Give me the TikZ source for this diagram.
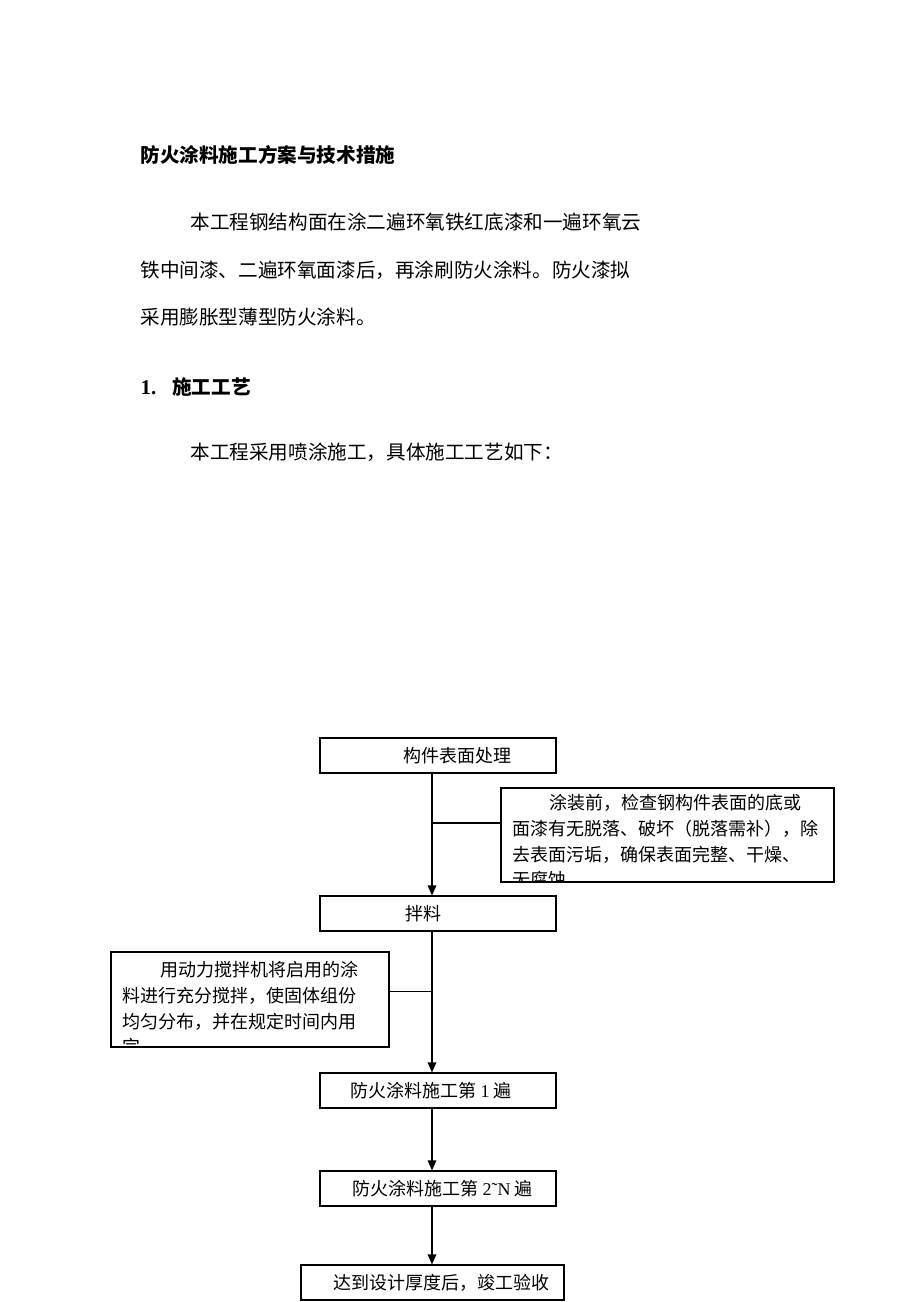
\documentclass[tikz,border=0pt]{standalone}
\usepackage{fontspec}
\setmainfont{Liberation Serif}
\newfontfamily\cjk{Noto Sans CJK SC}
\usetikzlibrary{arrows.meta}
\XeTeXlinebreaklocale "zh"
\XeTeXlinebreakskip=0pt plus 2pt
\tikzset{
  body/.style={anchor=base west, inner sep=0pt, font=\cjk\fontsize{19.6}{24}\selectfont},
  headline/.style={body, font=\cjk\bfseries\fontsize{19.6}{24}\selectfont},
  stepbox/.style={draw, minimum width=236pt, minimum height=35pt, inner sep=0pt, font=\cjk\fontsize{18}{22}\selectfont},
  notebox/.style={draw, inner sep=0pt},
  notetext/.style={anchor=base west, inner sep=0pt, font=\cjk\fontsize{18}{22}\selectfont}
}

\begin{document}
\begin{tikzpicture}[x=1pt,y=-1pt,line width=1.1pt,>={Triangle[length=10pt,width=8.5pt]}]
  \useasboundingbox (0,0) rectangle (920,1302);
  % text above the chart
  \node[headline] (title) at (140,162.5) {防火涂料施工方案与技术措施};
  \node[body] (para1) at (190,229.5) {\makebox[443pt][s]{本工程钢结构面在涂二遍环氧铁红底漆和一遍环氧云}};
  \node[body] (para2) at (140,277.5) {铁中间漆、二遍环氧面漆后，再涂刷防火涂料。防火漆拟};
  \node[body] (para3) at (140,324.5) {采用膨胀型薄型防火涂料。};
  \node[headline] (sec1) at (140,394.5) {{\rmfamily\bfseries\fontsize{21}{24}\selectfont 1.}\hspace{16pt}施工工艺};
  \node[body] (intro) at (190,459.5) {本工程采用喷涂施工，具体施工工艺如下：};

  % flow chart
  \coordinate (spine) at (432,760);
  \node[stepbox] (prep) at (438,755.5) {\hspace{38pt}构件表面处理};
  \node[stepbox] (mix) at (438,913.5) {\hspace{-30pt}拌料};
  \node[stepbox] (coat1) at (438,1090.5) {\hspace{-14pt}防火涂料施工第 {\rmfamily 1} 遍};
  \node[stepbox] (coatN) at (438,1188.5) {\hspace{9pt}防火涂料施工第 {\rmfamily 2˜N} 遍};
  \node[stepbox, minimum width=263pt] (accept) at (432.5,1282.5) {\hspace{17pt}达到设计厚度后，竣工验收};

  % side notes, last line cut off by the box
  \node[notebox, minimum width=333pt, minimum height=94pt] (check) at (667.5,835) {};
  \begin{scope}
    \clip (check.south west) rectangle (check.north east);
    \foreach \txt [count=\i from 0] in {{\hspace{37pt}涂装前，检查钢构件表面的底或},{面漆有无脱落、破坏（脱落需补），除},{去表面污垢，确保表面完整、干燥、},{无腐蚀}}
      \node[notetext] (check-\i) at (512,809.8+25.7*\i) {\txt};
  \end{scope}
  \node[notebox, minimum width=278pt, minimum height=95pt] (stir) at (250,999.5) {};
  \begin{scope}
    \clip (stir.south west) rectangle (stir.north east);
    \foreach \txt [count=\i from 0] in {{\hspace{38pt}用动力搅拌机将启用的涂},{料进行充分搅拌，使固体组份},{均匀分布，并在规定时间内用},{完}}
      \node[notetext] (stir-\i) at (122,976.8+25.7*\i) {\txt};
  \end{scope}

  \draw[->] (prep.south -| spine) -- (mix.north -| spine);
  \draw ([yshift=12pt]check.west) -- ([yshift=12pt]check.west -| spine);
  \draw ([yshift=8pt]stir.east) -- ([yshift=8pt]stir.east -| spine);
  \draw[->] (mix.south -| spine) -- (coat1.north -| spine);
  \draw[->] (coat1.south -| spine) -- (coatN.north -| spine);
  \draw[->] (coatN.south -| spine) -- (accept.north -| spine);
\end{tikzpicture}
\end{document}
